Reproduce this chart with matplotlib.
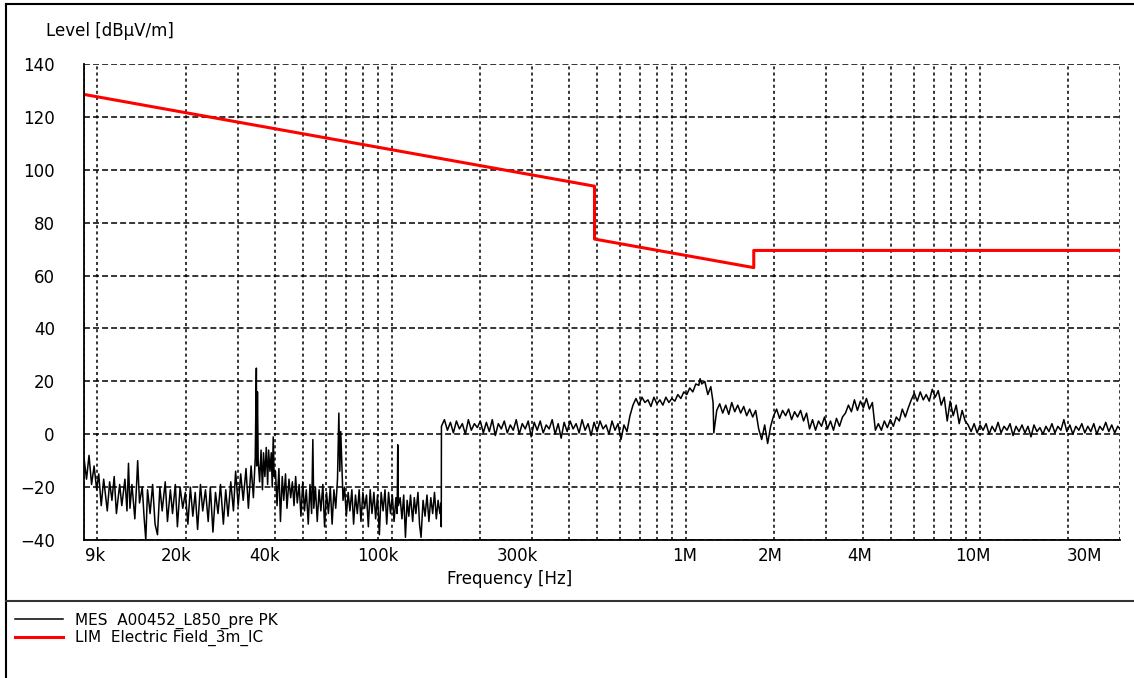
import numpy as np
import matplotlib
matplotlib.use('Agg')
import matplotlib.pyplot as plt
import matplotlib.transforms as mtransforms
from matplotlib.lines import Line2D
from matplotlib.ticker import FixedLocator, LogLocator, NullFormatter

# ---------------------------------------------------------------
# Data
# ---------------------------------------------------------------

# Measurement trace, 9 kHz .. 148 kHz (noise floor below the jump)
meas_low_khz = [9.0, 9.18, 9.36, 9.55, 9.74, 9.94, 10.1, 10.3, 10.5, 10.8, 11.0, 11.2, 11.4, 11.6,
                11.9, 12.1, 12.4, 12.6, 12.75, 12.9, 13.1, 13.4, 13.6, 13.7, 13.9, 14.2, 14.4,
                14.6, 14.8, 15.1, 15.4, 15.7, 16.0, 16.3, 16.6, 17.0, 17.3, 17.7, 18.0, 18.4,
                18.7, 19.1, 19.5, 19.9, 20.3, 20.7, 21.1, 21.5, 21.9, 22.4, 22.8, 23.3, 23.8,
                24.2, 24.7, 25.2, 25.7, 26.2, 26.8, 27.3, 27.8, 28.4, 29.0, 29.5, 30.1, 30.7,
                31.3, 32.0, 32.6, 33.3, 33.9, 34.4, 34.7, 34.8, 35.0, 35.2, 35.6, 36.0, 36.4,
                36.7, 37.1, 37.5, 37.9, 38.2, 38.6, 39.0, 39.3, 39.6, 39.9, 40.3, 40.8, 41.4,
                41.9, 42.5, 43.0, 43.6, 44.1, 44.8, 45.4, 46.0, 46.6, 47.2, 47.8, 48.5, 49.2,
                49.9, 50.6, 51.3, 52.1, 52.8, 53.5, 54.0, 54.4, 55.1, 55.9, 56.7, 57.5, 58.4,
                59.2, 60.1, 61.0, 61.9, 62.8, 63.7, 64.6, 65.5, 66.2, 66.7, 67.2, 67.8, 68.4,
                69.2, 70.2, 71.2, 72.2, 73.3, 74.3, 75.4, 76.5, 77.6, 78.7, 79.9, 81.0, 82.2,
                83.4, 84.6, 85.8, 87.1, 88.3, 89.6, 90.9, 92.2, 93.6, 95.0, 96.3, 97.7, 99.2,
                100.6, 102, 103.5, 104.5, 105, 105.5, 107, 108.5, 110, 111.5, 113, 114.5, 116,
                118, 119.5, 121, 123, 124.5, 126, 128, 130, 132, 134, 136, 138, 140, 142, 144,
                146, 147.4, 147.6]
meas_low_db = [-9, -17, -8, -19, -12, -21, -15, -27, -17, -29, -18, -25, -16, -30,
               -19, -27, -17, -29, -11, -28, -19, -32, -18, -10, -26, -20, -31,
               -40, -21, -30, -19, -34, -38, -20, -29, -18, -33, -21, -30, -19,
               -35, -20, -28, -22, -34, -20, -31, -22, -36, -19, -29, -21, -33,
               -20, -37, -22, -30, -19, -34, -21, -31, -18, -29, -14, -27, -15,
               -25, -13, -28, -12, -24, -9, 25, -12, 16, -10, -18, -6, -21,
               -7, -16, -5, -19, -6, -14, -7, -20, -1, -16, -14, -27, -13,
               -33, -16, -25, -15, -28, -17, -24, -18, -27, -16, -26, -19, -31,
               -18, -29, -21, -34, -19, -30, -2, -28, -20, -33, -21, -29, -19,
               -35, -22, -30, -20, -34, -21, -28, -17, 8, -14, 1, -12, -25,
               -20, -31, -22, -29, -21, -34, -23, -30, -21, -33, -22, -28, -23,
               -35, -21, -30, -22, -32, -23, -38, -22, -29, -21, -34, -22, -30,
               -23, -33, -24, -30, -4, -27, -24, -32, -23, -39, -25, -31, -23,
               -33, -24, -30, -22, -34, -39, -25, -31, -23, -33, -24, -30, -22, -32, -25,
               -30, -26, -35]

# Measurement trace, 148 kHz .. 30 MHz
meas_high_khz = [147.8, 151.3, 154.9, 158.6, 162.3, 166.2, 170.1, 174.1, 178.3, 182.5, 186.8,
                 191.3, 195.8, 200.4, 205.2, 210.1, 215.0, 220.1, 225.4, 230.7, 236.2, 241.8,
                 247.5, 253.4, 259.4, 265.5, 271.8, 278.3, 284.9, 291.6, 298.5, 305.6, 312.9,
                 320.3, 327.9, 335.7, 343.6, 351.8, 360.1, 368.6, 377.4, 386.3, 395.5, 404.9,
                 414.5, 424.3, 434.3, 444.6, 455.2, 466.0, 477.0, 488.3, 499.9, 511.7, 523.9,
                 536.3, 549.0, 562.0, 575.3, 589.0, 602.9, 617.2, 631.9, 646.8, 662.2, 677.9,
                 693.9, 710.4, 727.2, 744.5, 762.1, 780.2, 798.7, 817.6, 837.0, 856.8, 877.1,
                 897.9, 919.2, 941.0, 963.3, 986.1, 1009, 1033, 1058, 1083, 1109, 1120, 1135,
                 1162, 1190, 1218, 1240, 1247, 1276, 1306, 1337, 1369, 1402, 1435, 1469, 1504,
                 1539, 1576, 1613, 1651, 1691, 1731, 1772, 1814, 1857, 1901, 1946, 1992, 2039,
                 2087, 2137, 2188, 2240, 2293, 2347, 2403, 2460, 2518, 2578, 2639, 2701, 2765,
                 2831, 2898, 2967, 3037, 3109, 3183, 3258, 3336, 3415, 3496, 3578, 3663, 3750,
                 3839, 3930, 4023, 4119, 4216, 4316, 4419, 4523, 4631, 4740, 4853, 4968, 5086,
                 5206, 5330, 5456, 5585, 5718, 5853, 5992, 6134, 6279, 6428, 6581, 6737, 6897,
                 7060, 7228, 7399, 7574, 7754, 7938, 8126, 8319, 8516, 8718, 8924, 9136, 9352,
                 9574, 9801, 10033, 10271, 10514, 10764, 11019, 11280, 11547, 11821, 12101,
                 12388, 12682, 12982, 13290, 13605, 13927, 14257, 14595, 14941, 15295, 15658,
                 16029, 16409, 16798, 17196, 17603, 18020, 18448, 18885, 19332, 19791, 20260,
                 20740, 21231, 21734, 22249, 22777, 23316, 23869, 24435, 25014, 25607, 26214,
                 26835, 27471, 28122, 28789, 29471, 30000]
meas_high_db = [3, 5.5, 1.5, 4.5, 0.5, 5, 2, 4, 0, 5.5, 1.5,
                4, 2.5, 5, 0.5, 4.5, 1, 5.5, -0.5, 4, 2, 5,
                0.5, 3.5, 1.5, 5.5, 0, 4, 2, 5, -1, 4.5, 1.5,
                5, 0.5, 3.5, 2, 5.5, 0, 4, -1.5, 4.5, 1, 5,
                2, 4, 0.5, 5.5, 1.5, 4, -0.5, 4.5, 1, 5, 2,
                3.5, 0, 5, 1.5, 4, -2, 3.5, 1, 7, 11, 13.5,
                11, 14, 12, 13, 10.5, 14, 11.5, 13, 11, 14, 12,
                13.5, 12.5, 15, 13.5, 16, 15, 17.5, 16, 19, 18.5, 21, 19,
                20, 15, 18, 12, 0.5, 9, 11.5, 8, 11, 7.5, 12, 8.5, 11,
                8, 10.5, 7, 9.5, 6.5, 9, 2, -2, 3.5, -3.5, 3, 7, 9.5,
                6, 9, 7, 9.5, 5.5, 8.5, 6.5, 9, 5, 8, 2, 5.5, 1.5,
                5, 3, 6.5, 2, 5, 1.5, 6, 3, 6.5, 8, 11, 8.5, 13,
                9, 12.5, 10, 13.5, 9.5, 12, 1.5, 4, 1.5, 5, 2.5, 5.5, 3,
                6.5, 5, 9.5, 6.5, 10, 13, 15.5, 12.5, 16, 13, 15, 12.5, 17,
                14, 16.5, 11, 14, 5, 12.5, 7, 11, 4, 9, 5, 3.5, 1,
                4, 0.5, 3.5, 1.5, 4, 0, 3, 1, 4.5, 0.5, 3,
                1.5, 4, -0.5, 3, 1, 3.5, 0.5, 3, -1, 3.5, 1,
                2.5, 0, 3, 1, 4, 0.5, 3, 1.5, 5.5, 1, 3.5,
                0, 3, 1.5, 4, 0.5, 3, 1, 4, 0, 3, 1.5,
                4.5, 1, 3.5, 0.5, 3, 2]

# Limit line (Electric Field 3m), break points
lim_khz = [9, 490, 490, 1705, 1705, 30000]
lim_db = [128.5, 93.8, 73.8, 63.0, 69.5, 69.5]

# Axis ticks
x_ticks_hz = [9e3, 2e4, 4e4, 1e5, 3e5, 1e6, 2e6, 4e6, 1e7, 3e7]
x_tick_labels = ['9k', '20k', '40k', '100k', '300k', '1M', '2M', '4M', '10M', '30M']
y_ticks = [-40, -20, 0, 20, 40, 60, 80, 100, 120, 140]

meas_label = 'MES  A00452_L850_pre PK'
lim_label = 'LIM  Electric Field_3m_IC'

# ---------------------------------------------------------------
# Figure
# ---------------------------------------------------------------
plt.rcParams['font.family'] = ['DejaVu Sans']
plt.rcParams['lines.scale_dashes'] = False

W, H = 1134, 678
fig = plt.figure(figsize=(W / 100, H / 100), dpi=100)
ax = fig.add_axes([84 / W, 138 / H, 1036 / W, 476 / H])

meas_hz = np.array(meas_low_khz + meas_high_khz) * 1e3
meas_db = np.array(meas_low_db + meas_high_db)
lim_hz = np.array(lim_khz) * 1e3

l_meas, = ax.plot(meas_hz, meas_db, color='black', lw=1.1, zorder=3)
l_lim, = ax.plot(lim_hz, lim_db, color='#ff0000', lw=2.2, zorder=4)

ax.set_xscale('log')
ax.set_xlim(9e3, 3e7)
ax.set_ylim(-40, 140)

ax.xaxis.set_major_locator(FixedLocator(x_ticks_hz))
ax.set_xticklabels(x_tick_labels)
ax.xaxis.set_minor_locator(LogLocator(base=10, subs=np.arange(1, 10), numticks=100))
ax.xaxis.set_minor_formatter(NullFormatter())
ax.set_yticks(y_ticks)

ax.tick_params(axis='both', which='both', length=0, labelsize=12, colors='black')
ax.tick_params(axis='y', pad=21)
ax.tick_params(axis='x', pad=5)

# grid: dotted verticals, dashed horizontals
ax.set_axisbelow(True)
ax.grid(True, which='both', axis='x', color='black', lw=1.1, linestyle=(0, (2.2, 2.2)))
ax.grid(True, which='major', axis='y', color='black', lw=1.1, linestyle=(0, (4.3, 2.2)))

for s in ['top', 'right']:
    ax.spines[s].set_visible(False)
for s in ['left', 'bottom']:
    ax.spines[s].set_linewidth(1.3)
    ax.spines[s].set_zorder(5)

# shift the x tick labels like the receiver software does
label_shift_px = [11, -9.5, -10, -13.5, -14.5, -1, -3.5, -3, -7, -36]
for lab, dx in zip(ax.get_xticklabels(), label_shift_px):
    lab.set_transform(lab.get_transform() +
                      mtransforms.ScaledTranslation(dx / 100, 0, fig.dpi_scale_trans))

ax.set_ylabel('Level [dBµV/m]', rotation=0, fontsize=12, ha='left', va='center')
ax.yaxis.set_label_coords(-38 / 1036, (H - 31 - 138) / 476)
ax.set_xlabel('Frequency [Hz]', fontsize=12, ha='center', va='center')
ax.xaxis.set_label_coords((510 - 84) / 1036, (H - 579 - 138) / 476)

# outer frame and separator above the legend
fig.add_artist(Line2D([6 / W, 6 / W], [0, 1 - 4 / H], transform=fig.transFigure, color='black', lw=1.5))
fig.add_artist(Line2D([6 / W, 1], [1 - 4 / H, 1 - 4 / H], transform=fig.transFigure, color='black', lw=1.5))
fig.add_artist(Line2D([6 / W, 1], [1 - 601 / H, 1 - 601 / H], transform=fig.transFigure, color='#333333', lw=1.5))

fig.legend([l_meas, l_lim], [meas_label, lim_label], loc='upper left',
           bbox_to_anchor=(14.5 / W, 1 - 612.5 / H), frameon=False, fontsize=11,
           handlelength=3.2, handletextpad=0.75, labelspacing=0.08,
           borderpad=0, borderaxespad=0)

fig.savefig('out.png', dpi=100, facecolor='white')
